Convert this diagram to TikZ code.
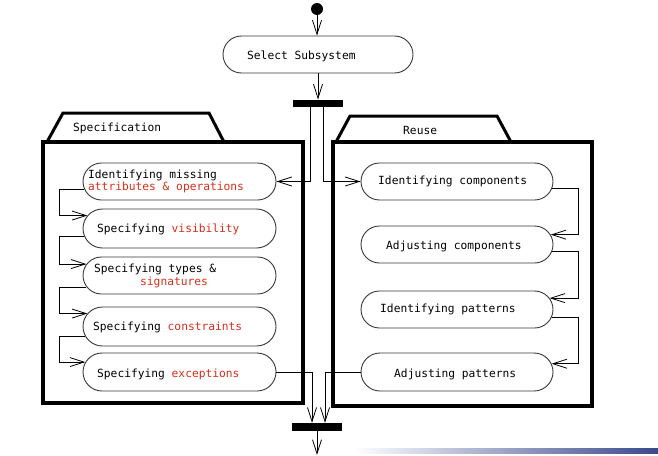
\documentclass[tikz,border=0pt]{standalone}
\usepackage{fontspec}
\newfontfamily\mono{DejaVu Sans Mono}
\usetikzlibrary{arrows.meta,shapes.misc,calc}
\definecolor{hl}{RGB}{215,45,25}
\definecolor{edgegray}{RGB}{55,55,55}
\definecolor{band}{RGB}{58,72,140}
\begin{document}
\begin{tikzpicture}[x=1pt,y=-1pt,
  act/.style={rounded rectangle, draw=edgegray, line width=0.9pt, minimum width=193pt, minimum height=37pt, inner sep=0pt},
  txt/.style={font=\mono\fontsize{11.25}{12.5}\selectfont, inner sep=0pt, anchor=mid west, align=left},
  flow/.style={draw=black, line width=0.8pt, -{Straight Barb[length=14pt,width=9pt,line width=0.8pt]}},
  bar/.style={fill=black, minimum width=50pt, minimum height=7.5pt, inner sep=0pt},
  pkgtab/.style={line width=3pt, line join=miter},
  pkgbox/.style={line width=4pt}
]
\useasboundingbox (0,0) rectangle (658,455);
\shade[left color=white, right color=band] (353,448) rectangle (658,453);

% packages
\draw[pkgtab] (47,142) -- (63,113) -- (209,113) -- (224,142);
\draw[pkgbox] (43,142) rectangle (303,403);
\node[txt] (speclbl) at (73,129) {Specification};
\draw[pkgtab] (336,142) -- (350,116) -- (497,116) -- (511,142);
\draw[pkgbox] (333,142) rectangle (592,406);
\node[txt] (reuselbl) at (403,132) {Reuse};

% top
\node[circle, fill=black, minimum size=12pt, inner sep=0pt] (start) at (317,9) {};
\node[act, minimum width=190pt] (sel) at (318,54.5) {};
\node[txt] (seltxt) at (247,57) {Select Subsystem};
\node[bar] (bar1) at (318,103.5) {};

% specification activities
\node[act] (s1) at (179.5,181.5) {};
\node[txt, anchor=west] (s1txt) at (88,181.5) {Identifying missing\\\textcolor{hl}{attributes \& operations}};
\node[act, minimum height=39pt] (s2) at (179.5,228.5) {};
\node[txt] (s2txt) at (97,230) {Specifying \textcolor{hl}{visibility}};
\node[act] (s3) at (179.5,275.5) {};
\node[txt, anchor=west] (s3txt) at (94,276) {Specifying types \&\\\hspace*{46pt}\textcolor{hl}{signatures}};
\node[act, minimum height=39pt] (s4) at (179.5,326.5) {};
\node[txt] (s4txt) at (93,328) {Specifying \textcolor{hl}{constraints}};
\node[act, minimum height=38pt] (s5) at (179.5,372) {};
\node[txt] (s5txt) at (97,375) {Specifying \textcolor{hl}{exceptions}};

% reuse activities
\node[act, minimum width=192pt] (r1) at (457,181.5) {};
\node[txt] (r1txt) at (378,182) {Identifying components};
\node[act, minimum width=192pt] (r2) at (457,244.5) {};
\node[txt] (r2txt) at (386,247) {Adjusting components};
\node[act, minimum width=192pt] (r3) at (457,309.5) {};
\node[txt] (r3txt) at (380,310) {Identifying patterns};
\node[act, minimum width=192pt, minimum height=38pt] (r4) at (457,372) {};
\node[txt] (r4txt) at (394,375) {Adjusting patterns};

\node[bar, minimum height=8pt] (bar2) at (317,427) {};
\coordinate (lrail) at (59,0);
\coordinate (rrail) at (578,0);
\coordinate (endpt) at (317,455);

% connectors
\draw[flow] (start.south) -- (start.south |- sel.north);
\draw[flow] (sel.south -| bar1.north) -- (bar1.north);
\draw[flow] ([xshift=-8pt]bar1.south) |- (s1.east);
\draw[flow] ([xshift=5pt]bar1.south) |- (r1.west);

\draw[flow] (s1.185) -- (s1.185 -| lrail) |- (s2.172);
\draw[flow] (s2.185.7) -- (s2.185.7 -| lrail) |- (s3.173);
\draw[flow] (s3.187) -- (s3.187 -| lrail) |- (s4.172);
\draw[flow] (s4.186.4) -- (s4.186.4 -| lrail) |- (s5.174);

\draw[flow] (r1.-4) -- (r1.-4 -| rrail) |- (r2.6);
\draw[flow] (r2.-4) -- (r2.-4 -| rrail) |- (r3.7.5);
\draw[flow] (r3.-5) -- (r3.-5 -| rrail) |- (r4.5.4);

\draw[flow] (s5.east) -| ([xshift=-5pt]bar2.north);
\draw[flow] (r4.west) -| ([xshift=8pt]bar2.north);
\draw[flow] (bar2.south) -- (endpt);
\end{tikzpicture}
\end{document}
